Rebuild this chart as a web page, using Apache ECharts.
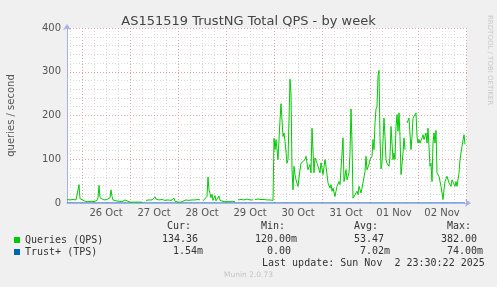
<!DOCTYPE html>
<html>
<head>
<meta charset="utf-8">
<script src="https://cdn.jsdelivr.net/npm/echarts@6/dist/echarts.min.js"></script>
<style>
html,body{margin:0;padding:0;background:#f0f0f0;}
#c{width:497px;height:287px;}
</style>
</head>
<body>
<div id="c"></div>
<script>
// ---- data ----
const qpsTimes = [
 '10-25 16:30','10-25 18:00','10-25 19:30','10-25 21:00','10-25 22:00','10-25 22:30','10-25 23:00',
 '10-26 00:00','10-26 01:30','10-26 03:00','10-26 04:30','10-26 06:00','10-26 07:30','10-26 08:00','10-26 08:30','10-26 09:00','10-26 09:30','10-26 11:00','10-26 12:30','10-26 13:30','10-26 14:00','10-26 14:30','10-26 15:00','10-26 15:30','10-26 17:00','10-26 18:30','10-26 20:00','10-26 21:30','10-26 22:30',
 '10-27 00:00','10-27 02:00','10-27 04:00','10-27 06:00','10-27 07:00','10-27 08:00','10-27 09:30','10-27 11:00','10-27 12:00','10-27 12:30','10-27 13:00','10-27 14:30','10-27 16:00','10-27 17:30','10-27 19:00','10-27 20:30','10-27 21:30','10-27 22:00','10-27 22:30',
 '10-28 00:00','10-28 01:30','10-28 02:30','10-28 04:00','10-28 05:30','10-28 07:00','10-28 08:30','10-28 10:00','10-28 11:00','10-28 11:30','10-28 12:30','10-28 13:30','10-28 14:30','10-28 15:00','10-28 15:30','10-28 16:00','10-28 16:30','10-28 17:00','10-28 17:30','10-28 18:30','10-28 19:00','10-28 20:00','10-28 20:30','10-28 21:00','10-28 22:00','10-28 23:00',
 '10-29 00:00','10-29 01:30','10-29 03:00','10-29 04:30','10-29 05:30','10-29 06:00','10-29 07:30','10-29 09:00','10-29 10:30','10-29 12:00','10-29 13:30','10-29 14:00','10-29 14:30','10-29 16:00','10-29 17:30','10-29 19:00','10-29 20:30','10-29 22:00','10-29 23:30',
 '10-30 00:00','10-30 00:30','10-30 01:00','10-30 02:00','10-30 03:00','10-30 03:30','10-30 04:30','10-30 05:00','10-30 05:30','10-30 06:30','10-30 07:00','10-30 08:00','10-30 08:30','10-30 09:00','10-30 09:30','10-30 10:00','10-30 10:30','10-30 11:00','10-30 12:00','10-30 13:00','10-30 13:30','10-30 14:30','10-30 15:30','10-30 16:00','10-30 17:00','10-30 18:00','10-30 18:30','10-30 19:00','10-30 20:00','10-30 20:30','10-30 21:30','10-30 22:00','10-30 23:00','10-30 23:30',
 '10-31 00:30','10-31 01:30','10-31 02:00','10-31 03:00','10-31 04:00','10-31 04:30','10-31 05:00','10-31 05:30','10-31 06:30','10-31 07:00','10-31 07:30','10-31 08:30','10-31 09:00','10-31 10:00','10-31 10:30','10-31 11:00','10-31 12:00','10-31 12:30','10-31 13:30','10-31 14:00','10-31 14:30','10-31 15:00','10-31 15:30','10-31 16:30','10-31 17:30','10-31 18:00','10-31 18:30','10-31 19:30','10-31 20:00','10-31 20:30','10-31 21:30','10-31 22:00','10-31 22:30','10-31 23:30',
 '11-01 00:00','11-01 01:00','11-01 01:30','11-01 02:00','11-01 02:30','11-01 03:00','11-01 03:30','11-01 04:00','11-01 04:30','11-01 05:00','11-01 05:30','11-01 06:00','11-01 07:00','11-01 07:30','11-01 08:00','11-01 08:30','11-01 09:30','11-01 10:00','11-01 10:30','11-01 11:30','11-01 12:00','11-01 12:30','11-01 13:00','11-01 13:30','11-01 14:00','11-01 14:30','11-01 15:00','11-01 15:30','11-01 16:30','11-01 17:00','11-01 17:30','11-01 18:00','11-01 18:30','11-01 19:30','11-01 20:00','11-01 20:30','11-01 21:00','11-01 21:30','11-01 22:00','11-01 23:00','11-01 23:30',
 '11-02 00:00','11-02 00:30','11-02 01:00','11-02 02:00','11-02 02:30','11-02 03:00','11-02 04:00','11-02 04:30','11-02 05:00','11-02 06:00','11-02 06:30','11-02 07:00','11-02 07:30','11-02 08:00','11-02 08:30','11-02 09:00','11-02 09:30','11-02 10:30','11-02 11:00','11-02 11:30','11-02 12:30','11-02 13:00','11-02 13:30','11-02 14:30','11-02 15:00','11-02 15:30','11-02 16:30','11-02 17:00','11-02 17:30','11-02 18:30','11-02 19:00','11-02 19:30','11-02 20:30','11-02 21:00','11-02 21:30','11-02 22:00','11-02 23:00','11-02 23:30'
];
const qpsValues = [
 8,7,8,7,9,42,10,
 6,4,3,4,3,6,12,40,12,8,7,8,6,12,30,15,7,5,4,3,7,4,
 2,2,2,2,null,6,7,7,9,14,9,7,8,6,7,6,10,11,4,
 2,2,6,7,6,7,7,8,7,null,5,8,15,59,30,22,12,20,6,17,5,8,16,6,7,3,
 5,3,4,3,null,7,8,7,9,7,7,null,8,9,8,8,7,7,6,
 148,122,145,99,190,227,152,160,141,91,99,283,251,76,30,84,65,53,38,76,91,95,99,107,76,88,69,171,69,103,91,84,69,92,
 65,99,84,46,34,42,27,34,15,27,38,49,42,46,149,49,76,53,69,114,215,137,11,19,27,19,38,23,34,38,72,107,76,88,
 99,107,145,122,183,215,220,290,303,150,78,91,194,152,99,91,84,107,175,99,114,100,175,202,164,206,152,65,114,149,122,null,183,194,192,122,152,194,190,206,152,
 137,145,137,149,156,145,160,137,171,84,91,49,137,160,137,166,69,61,57,38,8,30,49,61,65,46,38,53,57,38,49,38,69,99,103,130,156,134
];
const trustTimes = ['10-25 16:30','10-26 12:00','10-27 12:00','10-28 12:00','10-29 12:00','10-30 12:00','10-31 12:00','11-01 12:00','11-02 12:00','11-02 23:30'];
const trustValues = [0.004,0.006,0.002,0.005,0.003,0.012,0.009,0.011,0.007,0.00154];
const yTicks = [0,100,200,300,400];
const monthNames = ['Jan','Feb','Mar','Apr','May','Jun','Jul','Aug','Sep','Oct','Nov','Dec'];
const seriesNames = ['Queries (QPS)','Trust+ (TPS)'];
const statHeaders = ['Cur:','Min:','Avg:','Max:'];
const statsQps = ['134.36','120.00m','53.47','382.00'];
const statsTrust = ['1.54m','0.00','7.02m','74.00m'];
const lastUpdate = 'Last update: Sun Nov  2 23:30:22 2025';

// time helper (UTC)
const T = s => Date.parse('2025-' + s.replace(' ', 'T') + ':00Z');
const qpsData = qpsTimes.map((t,i)=>[T(t), qpsValues[i]]);
const trustData = trustTimes.map((t,i)=>[T(t), trustValues[i]]);

const HOUR = 3600*1000;
const xStart = T('10-25 16:30'), xEnd = T('11-03 00:30');
const sixStart = T('10-25 12:00');   // multiple of 6h
const dayStart = T('10-25 00:00');   // multiple of 24h

const chart = echarts.init(document.getElementById('c'), null, {renderer:'canvas'});
const mono = 'DejaVu Sans Mono';
const sans = 'DejaVu Sans';
const txtCol = '#333';
const minor = '#d8d8d8';
const major = '#e8a0a0';
const axisCol = '#a8b0e8';

function stat(x, y, s){ return {type:'text', left:x, top:y-6, style:{text:s, font:'10px '+mono, fill:txtCol}}; }

const graphics = [
 {type:'text', left:486, top:15, rotation:-Math.PI/2, style:{text:'RRDTOOL / TOBI OETIKER', font:'7px '+sans, fill:'#c8c8c8'}},
 stat(167,227,statHeaders[0]), stat(261,227,statHeaders[1]), stat(354,227,statHeaders[2]), stat(447,227,statHeaders[3]),
 stat(162,240,statsQps[0]), stat(255,240,statsQps[1]), stat(354,240,statsQps[2]), stat(441,240,statsQps[3]),
 stat(173,252,statsTrust[0]), stat(267,252,statsTrust[1]), stat(360,252,statsTrust[2]), stat(447,252,statsTrust[3]),
 stat(262,264,lastUpdate),
 {type:'text', left:'center', top:271, style:{text:'Munin 2.0.73', font:'7.5px '+sans, fill:'#c4c4c4'}}
];

const hiddenY = gi => ({type:'value', gridIndex:gi, min:0, max:400, show:false});

chart.setOption({
  animation:false,
  backgroundColor:'#f0f0f0',
  title:{text:'AS151519 TrustNG Total QPS - by week', left:'center', top:10,
    textStyle:{fontFamily:sans, fontSize:13, fontWeight:'normal', color:'#444'}},
  legend:{data:seriesNames, orient:'vertical', left:14, top:234, itemWidth:6, itemHeight:6, itemGap:0,
    padding:0, icon:'rect', selectedMode:false,
    textStyle:{fontFamily:mono, fontSize:10, color:txtCol, lineHeight:12}},
  grid:[
    {left:67, right:30, top:28, bottom:84, show:true, backgroundColor:'#ffffff', borderWidth:0, z:0, containLabel:false, outerBoundsMode:'none'},
    {left:58, right:30, top:28, bottom:84, show:false, containLabel:false, outerBoundsMode:'none'},
    {left:34, right:30, top:28, bottom:84, show:false, containLabel:false, outerBoundsMode:'none'}
  ],
  xAxis:[
    {type:'value', gridIndex:0, min:xStart, max:xEnd, z:4,
      axisLine:{show:true, onZero:false, lineStyle:{color:axisCol, width:1}, symbol:['none','arrow'], symbolSize:[6,6], symbolOffset:[0,4]},
      axisTick:{show:false}, axisLabel:{show:false}, splitLine:{show:false}},
    {type:'value', gridIndex:1, min:sixStart, max:xEnd, interval:6*HOUR, z:1,
      axisLine:{show:false, onZero:false},
      axisTick:{show:false},
      splitLine:{show:true, showMinLine:false, showMaxLine:false, lineStyle:{color:minor, type:[1,2], width:1}},
      axisLabel:{fontFamily:sans, fontSize:10, color:'#555', margin:5, hideOverlap:false,
        formatter:function(v){ const d=new Date(v); if(d.getUTCHours()===12 && d.getUTCMinutes()===0 && v>xStart){ return String(d.getUTCDate()).padStart(2,'0')+' '+monthNames[d.getUTCMonth()]; } return ''; }}
    },
    {type:'value', gridIndex:2, min:dayStart, max:xEnd, interval:24*HOUR, z:2,
      axisLine:{show:false, onZero:false},
      axisTick:{show:false},
      axisLabel:{show:false},
      splitLine:{show:true, showMinLine:false, showMaxLine:false, lineStyle:{color:major, type:[1,2], width:1}}
    }
  ],
  yAxis:[
    {type:'value', gridIndex:0, min:0, max:400, interval:100, z:3,
      name:'queries / second', nameLocation:'middle', nameGap:51,
      nameTextStyle:{fontFamily:sans, fontSize:10, color:'#555'},
      axisLine:{show:true, onZero:false, lineStyle:{color:axisCol}, symbol:['none','arrow'], symbolSize:[6,6], symbolOffset:[0,4]},
      axisTick:{show:false},
      axisLabel:{fontFamily:sans, fontSize:10, color:'#555', margin:6},
      splitLine:{show:true, lineStyle:{color:major, type:[1,2]}},
      minorTick:{show:false, splitNumber:5},
      minorSplitLine:{show:true, lineStyle:{color:minor, type:[1,2]}}
    },
    hiddenY(1), hiddenY(2)
  ],
  graphic:graphics,
  series:[
    {name:seriesNames[0], type:'line', xAxisIndex:0, yAxisIndex:0, data:qpsData, showSymbol:false, connectNulls:false, z:6,
      lineStyle:{color:'#00cc00', width:1}, itemStyle:{color:'#00cc00'}},
    {name:seriesNames[1], type:'line', xAxisIndex:0, yAxisIndex:0, data:trustData, showSymbol:false, z:3,
      lineStyle:{color:'#0066b3', width:1}, itemStyle:{color:'#0066b3'}}
  ]
});
</script>
</body>
</html>
